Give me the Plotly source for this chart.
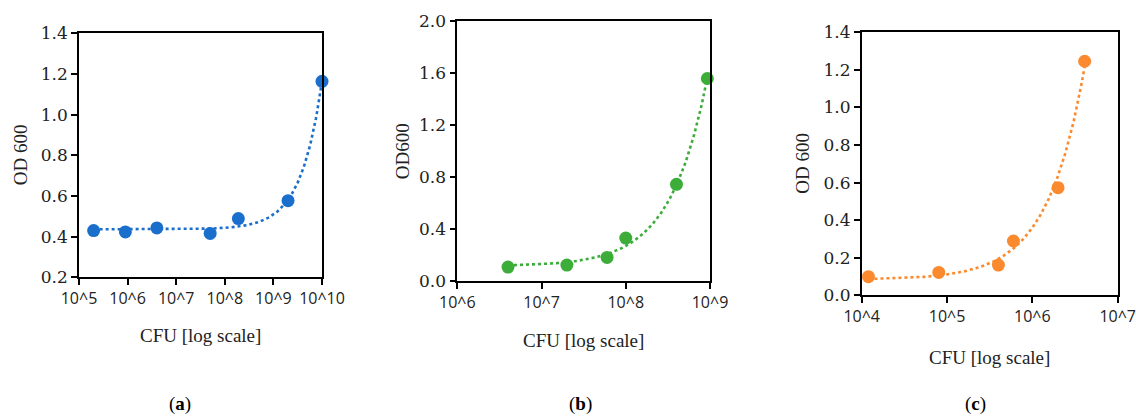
import numpy as np
import plotly.graph_objects as go

# ---- data ----
cfu_a = [2e5, 9e5, 4e6, 5e7, 1.9e8, 2e9, 1e10]
od_a = [0.43, 0.423, 0.443, 0.416, 0.489, 0.577, 1.164]

cfu_b = [4e6, 2e7, 6e7, 1e8, 4e8, 9.3e8]
od_b = [0.107, 0.123, 0.182, 0.331, 0.745, 1.56]

cfu_c = [1.2e4, 8e4, 4e5, 6e5, 2e6, 4.1e6]
od_c = [0.099, 0.122, 0.161, 0.289, 0.573, 1.246]

xtick_a = [1e5, 1e6, 1e7, 1e8, 1e9, 1e10]
xtext_a = ["10^5", "10^6", "10^7", "10^8", "10^9", "10^10"]
xtick_b = [1e6, 1e7, 1e8, 1e9]
xtext_b = ["10^6", "10^7", "10^8", "10^9"]
xtick_c = [1e4, 1e5, 1e6, 1e7]
xtext_c = ["10^4", "10^5", "10^6", "10^7"]

ytitles = ["OD 600", "OD600", "OD 600"]
xtitle = "CFU [log scale]"
captions = ["(<b>a</b>)", "(<b>b</b>)", "(<b>c</b>)"]

colors = ["#1b6fcc", "#3dad3a", "#fb8a2e"]

W, H = 1136, 416
# plot areas in pixels: (left, right, top, bottom)
boxes = [(79, 322, 33.3, 277.3), (457.3, 710, 21.4, 281), (861.7, 1117.7, 32.3, 295.3)]
yranges = [[0.2, 1.4], [0.0, 2.0], [0.0, 1.4]]
ydticks = [0.2, 0.4, 0.2]
xranges = [[5, 10], [6, 9], [4, 7]]
xticks = [(xtick_a, xtext_a), (xtick_b, xtext_b), (xtick_c, xtext_c)]
series = [(cfu_a, od_a), (cfu_b, od_b), (cfu_c, od_c)]
cap_x = [180, 580, 975]
cap_y = 404
ytitle_x = [20, 402, 803]
xtitle_y = [335, 340, 357]

serif = "Liberation Serif"
tickserif = "DejaVu Serif"
sans = "Open Sans"

fig = go.Figure()
layout = dict(width=W, height=H, margin=dict(l=0, r=0, t=0, b=0, autoexpand=False),
              paper_bgcolor="white", plot_bgcolor="white", showlegend=False)
annotations = []

for i, ((x, y), col) in enumerate(zip(series, colors)):
    sfx = "" if i == 0 else str(i + 1)
    xa, ya = "x" + sfx, "y" + sfx
    x = np.array(x, dtype=float)
    y = np.array(y, dtype=float)
    # linear trendline y = a + b*x (least squares), drawn on the log axis
    b, a = np.polyfit(x, y, 1)
    xf = np.logspace(np.log10(x.min()), np.log10(x.max()), 300)
    yf = a + b * xf
    fig.add_trace(go.Scatter(x=xf, y=yf, mode="lines", xaxis=xa, yaxis=ya,
                             line=dict(color=col, width=2.6, dash="dot"),
                             hoverinfo="skip", cliponaxis=False))
    fig.add_trace(go.Scatter(x=x, y=y, mode="markers", xaxis=xa, yaxis=ya,
                             marker=dict(color=col, size=13), cliponaxis=False))
    l, r, t, bt = boxes[i]
    tv, tt = xticks[i]
    common = dict(showline=True, linecolor="black", linewidth=1.6, mirror=True,
                  ticks="outside", ticklen=6, tickwidth=1.5, tickcolor="black",
                  showgrid=False, zeroline=False, automargin=False)
    layout["xaxis" + sfx] = dict(domain=[l / W, r / W], anchor=ya, type="log",
                                 range=xranges[i], tickvals=tv, ticktext=tt,
                                 tickfont=dict(family=sans, size=16, color="#222"),
                                 **common)
    layout["yaxis" + sfx] = dict(domain=[1 - bt / H, 1 - t / H], anchor=xa,
                                 range=yranges[i], dtick=ydticks[i], tick0=0,
                                 tickformat=".1f",
                                 tickfont=dict(family=tickserif, size=17, color="#222"),
                                 **common)
    annotations.append(dict(text=xtitle, xref="paper", yref="paper",
                            x=(l + r) / 2 / W, y=1 - xtitle_y[i] / H,
                            showarrow=False, xanchor="center", yanchor="middle",
                            font=dict(family=serif, size=19, color="#222")))
    annotations.append(dict(text=ytitles[i], xref="paper", yref="paper",
                            x=ytitle_x[i] / W, y=1 - (t + bt) / 2 / H, textangle=-90,
                            showarrow=False, xanchor="center", yanchor="middle",
                            font=dict(family=serif, size=19, color="#222")))
    annotations.append(dict(text=captions[i], xref="paper", yref="paper",
                            x=cap_x[i] / W, y=1 - cap_y / H,
                            showarrow=False, xanchor="center", yanchor="middle",
                            font=dict(family=serif, size=19, color="black")))

layout["annotations"] = annotations
fig.update_layout(**layout)
fig.write_html("out.html", config={"displayModeBar": False},
               post_script="document.body.style.margin='0';document.body.style.overflow='hidden';")
